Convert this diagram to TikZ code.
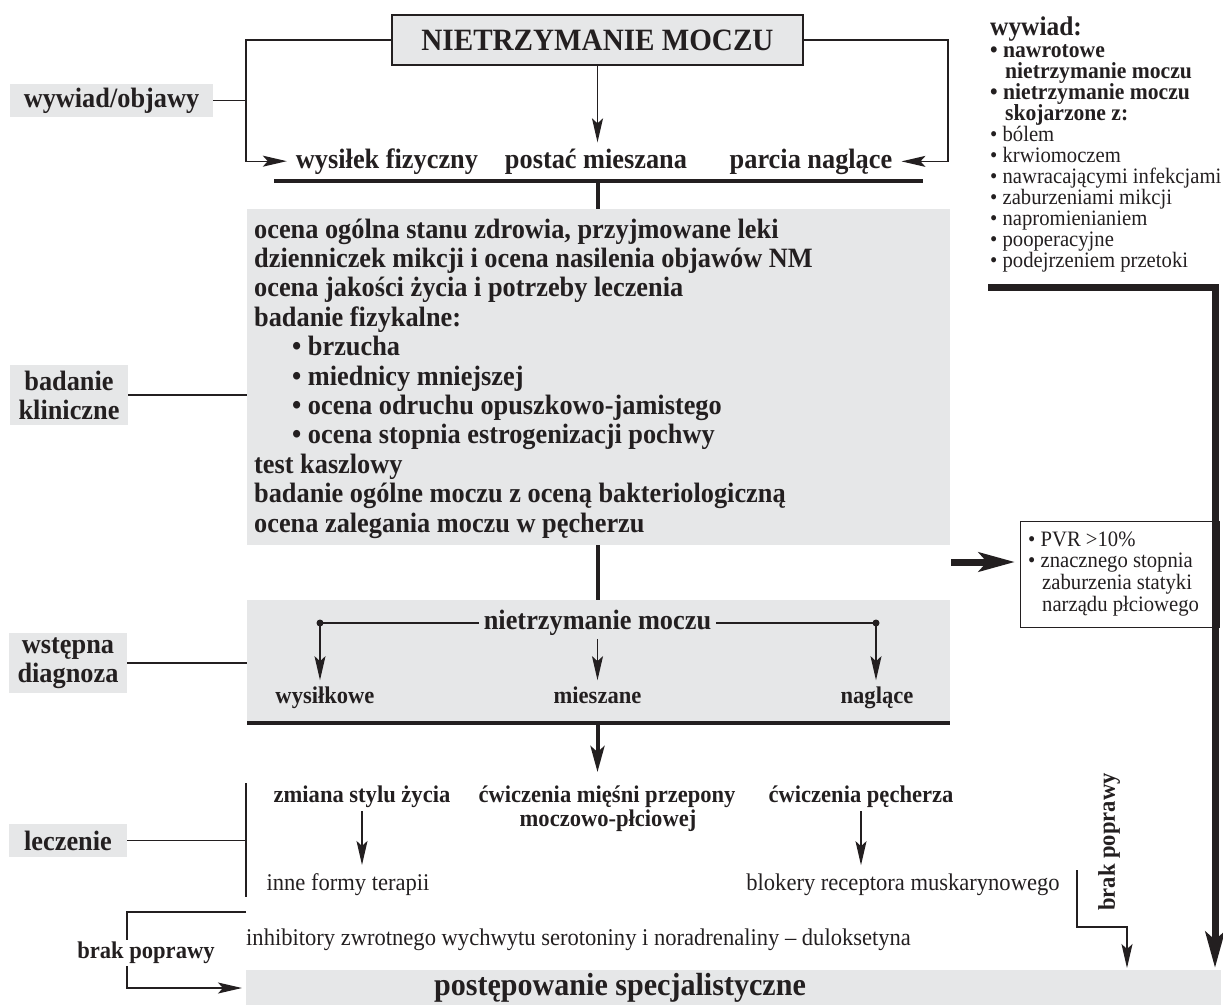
\documentclass[tikz,border=0pt]{standalone}
\usepackage{fontspec}
\setmainfont{Liberation Serif}[FakeStretch=0.94]
\usepackage{tikz}
\usetikzlibrary{arrows.meta,positioning}
\definecolor{nmGray}{HTML}{E6E7E8}
\definecolor{nmInk}{HTML}{231F20}
\newcommand{\nmfont}[2]{\fontsize{#1}{#2}\selectfont}
\tikzset{
  nm diagram/.style={x=1pt, y=-1pt, text=nmInk, line join=miter},
  nm frame/.style={draw=nmInk, fill=nmGray, line width=1.3pt, inner sep=0pt},
  nm shade/.style={fill=nmGray, inner sep=0pt},
  nm side/.style={nm shade, align=center, font=\bfseries\nmfont{28}{29}},
  nm head/.style={font=\bfseries\nmfont{28}{29}, inner sep=0pt},
  nm small/.style={font=\bfseries\nmfont{24}{24}, inner sep=0pt},
  nm plain/.style={font=\nmfont{24}{24}, inner sep=0pt},
  nm note/.style={font=\nmfont{22}{21}, inner sep=0pt},
  nm note bold/.style={font=\bfseries\nmfont{23}{21}, inner sep=0pt},
  nm line/.style={draw=nmInk, line width=1.3pt},
  nm arrow/.style={nm line, -{Stealth[length=24pt, width=11pt, inset=5pt]}},
  nm bar/.style={draw=nmInk, line width=4pt},
  nm bar arrow/.style={nm bar, -{Stealth[length=26pt, width=14pt, inset=6pt]}},
  nm heavy arrow/.style={draw=nmInk, line width=7pt, -{Stealth[length=36pt, width=19pt, inset=8pt]}},
  nm dot/.style={fill=nmInk}
}

\begin{document}
\begin{tikzpicture}[nm diagram]
\useasboundingbox (0,0) rectangle (1223,1005);

\node[nm frame, minimum width=411pt, minimum height=50pt, font=\bfseries\nmfont{31}{31}] (title) at (597.5,40) {NIETRZYMANIE MOCZU};
\node[nm side, minimum width=203pt, minimum height=33pt] (objawy) at (111.5,100.5) {wywiad/objawy};
\node[nm head, anchor=base] (wysilek) at (387,168) {wysiłek fizyczny};
\node[nm head, anchor=base] (mieszana) at (596,168) {postać mieszana};
\node[nm head, anchor=base] (parcia) at (811,168) {parcia naglące};
\coordinate (objL) at (246,100.5);
\coordinate (objR) at (948,100.5);
\draw[nm line] (objawy.east) -- (objL);
\draw[nm arrow, shorten >=9pt] (title.west) -| (objL) |- (wysilek.west);
\draw[nm arrow, shorten >=9pt] (title.east) -| (objR) |- (parcia.east);
\draw[nm arrow, shorten >=6pt] (title.south) -- (title.south |- mieszana.north);

\coordinate (barL) at (274,181);
\coordinate (barR) at (923,181);
\draw[nm bar] (barL) -- (barR);
\node[nm shade, minimum width=703pt, minimum height=336pt, anchor=north west] (clinic) at (247,209) {};
\draw[nm bar] (title.south |- barL) -- (title.south |- clinic.north);
\foreach \ind/\txt [count=\i] in {0/{ocena ogólna stanu zdrowia, przyjmowane leki}, 0/{dzienniczek mikcji i ocena nasilenia objawów NM}, 0/{ocena jakości życia i potrzeby leczenia}, 0/{badanie fizykalne:}, 38/{• brzucha}, 38/{• miednicy mniejszej}, 38/{• ocena odruchu opuszkowo-jamistego}, 38/{• ocena stopnia estrogenizacji pochwy}, 0/{test kaszlowy}, 0/{badanie ogólne moczu z oceną bakteriologiczną}, 0/{ocena zalegania moczu w pęcherzu}}
  \node[nm head, anchor=base west] (clin\i) at (254+\ind, 208.6+29.4*\i) {\txt};
\node[nm side, minimum width=118pt, minimum height=60pt] (clinicl) at (69,395) {badanie\\kliniczne};
\draw[nm line] (clinicl.east) -- (clinicl.east -| clinic.west);

\node[nm shade, minimum width=703pt, minimum height=123pt, anchor=north west] (diag) at (247,600) {};
\draw[nm bar] (title.south |- clinic.south) -- (title.south |- diag.north);
\draw[nm bar] (diag.south west) -- (diag.south east);
\node[nm head] (diagtop) at (597.5,623) {nietrzymanie moczu};
\coordinate (dotA) at (320,623);
\coordinate (dotC) at (876,623);
\fill[nm dot] (dotA) circle (3.5pt) (dotC) circle (3.5pt);
\draw[nm line] (dotA) -- ([xshift=-5pt]diagtop.west) ([xshift=5pt]diagtop.east) -- (dotC);
\node[nm small, anchor=base] (diagA) at (325,703) {wysiłkowe};
\node[nm small, anchor=base] (diagB) at (597.5,703) {mieszane};
\node[nm small, anchor=base] (diagC) at (877,703) {naglące};
\draw[nm arrow, shorten >=6pt] (dotA) -- (dotA |- diagA.north);
\draw[nm arrow, shorten <=3pt, shorten >=6pt] (diagtop.south) -- (diagtop.south |- diagB.north);
\draw[nm arrow, shorten >=6pt] (dotC) -- (dotC |- diagC.north);
\node[nm side, minimum width=118pt, minimum height=60pt] (diagl) at (68,663) {wstępna\\diagnoza};
\draw[nm line] (diagl.east) -- (diagl.east -| diag.west);
\coordinate (treatIn) at (597.5,772);
\draw[nm bar arrow] (title.south |- diag.south) -- (treatIn);

\coordinate (brTop) at (246,783);
\coordinate (brBot) at (246,897);
\draw[nm line] (brTop) -- (brBot);
\node[nm side, minimum width=118pt, minimum height=33pt] (leczl) at (68,840.5) {leczenie};
\draw[nm line] (leczl.east) -- (leczl.east -| brTop);
\node[nm small, anchor=base] (lifestyle) at (362,802) {zmiana stylu życia};
\node[nm small, anchor=base] (pelvic) at (607,802) {ćwiczenia mięśni przepony};
\node[nm small, anchor=base] (pelvic2) at (608,826) {moczowo-płciowej};
\node[nm small, anchor=base] (bladder) at (861,802) {ćwiczenia pęcherza};
\node[nm plain, anchor=base] (other) at (348,890) {inne formy terapii};
\node[nm plain, anchor=base] (antimusc) at (903,890) {blokery receptora muskarynowego};
\draw[nm arrow, shorten <=4pt, shorten >=8pt] (lifestyle.south) -- (lifestyle.south |- other.north);
\draw[nm arrow, shorten <=4pt, shorten >=8pt] (bladder.south) -- (bladder.south |- antimusc.north);
\node[nm plain, anchor=base west] (snri) at (246,945) {inhibitory zwrotnego wychwytu serotoniny i noradrenaliny – duloksetyna};

\node[nm shade, minimum width=975pt, minimum height=35pt, anchor=north west] (special) at (246,970) {};
\node[font=\bfseries\nmfont{32}{32}, inner sep=0pt, anchor=base] (speciall) at (620,995) {postępowanie specjalistyczne};
\coordinate (nofixLa) at (246,912);
\coordinate (nofixLb) at (127,988);
\draw[nm arrow, shorten >=4pt] (nofixLa) -| (nofixLb) -- (nofixLb -| special.west);
\node[nm small, fill=white, inner sep=2pt] (nofixL) at (146,953) {brak poprawy};
\node[nm small, rotate=90] (nofixR) at (1109,842) {brak poprawy};
\coordinate (nofixRa) at (1077,870);
\coordinate (nofixRb) at (1127,927);
\draw[nm arrow, shorten >=2pt] (nofixRa) |- (nofixRb) -- (nofixRb |- special.north);

\node[font=\bfseries\nmfont{27}{27}, inner sep=0pt, anchor=base west] (history) at (990,35) {wywiad:};
\foreach \ind/\txt [count=\i] in {0/{• nawrotowe}, 15/{nietrzymanie moczu}, 0/{• nietrzymanie moczu}, 15/{skojarzone z:}}
  \node[nm note bold, anchor=base west] (hist\i) at (990+\ind, 36+21*\i) {\txt};
\foreach \txt [count=\i] in {bólem, krwiomoczem, nawracającymi infekcjami, zaburzeniami mikcji, napromienianiem, pooperacyjne, podejrzeniem przetoki}
  \node[nm note, anchor=base west] (cause\i) at (990, 120+21*\i) {• \txt};

\node[draw=nmInk, line width=1.3pt, fill=white, minimum width=199pt, minimum height=106pt, anchor=north west] (pvr) at (1020,521) {};
\foreach \ind/\txt [count=\i] in {0/{• PVR >10\%}, 0/{• znacznego stopnia}, 14/{zaburzenia statyki}, 14/{narządu płciowego}}
  \node[nm note, anchor=base west] (pvr\i) at (1028+\ind, 524.3+21.7*\i) {\txt};
\coordinate (pvrIn) at (951,562);
\draw[nm heavy arrow, shorten >=5pt] (pvrIn) -- (pvrIn -| pvr.west);
\coordinate (histA) at (988,287);
\coordinate (histB) at (1215,287);
\draw[nm heavy arrow, shorten >=2pt] (histA) -- (histB) -- (histB |- special.north);
\end{tikzpicture}
\end{document}
